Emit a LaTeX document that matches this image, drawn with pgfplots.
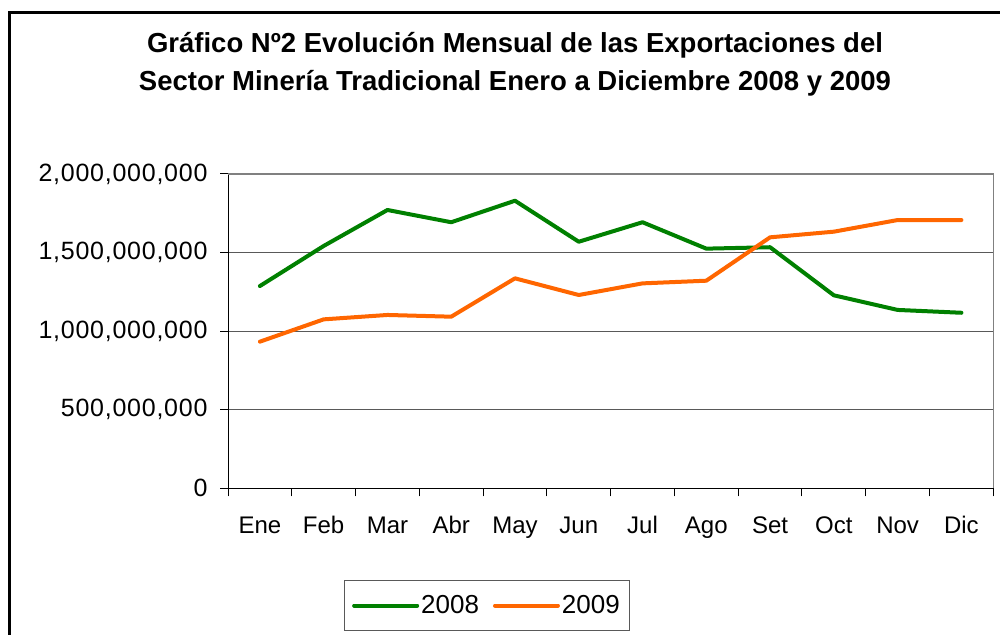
\documentclass[border=0pt]{standalone}
\usepackage{pgfplots}
\pgfplotsset{compat=1.18}
\usepackage{fontspec}
\setmainfont{Liberation Sans}
\definecolor{cgreen}{HTML}{008000}
\definecolor{corange}{HTML}{FF6600}
\begin{document}
\begin{tikzpicture}[x=1pt,y=1pt]
\useasboundingbox (0,0) rectangle (1000,634);
\draw[line width=3pt] (9.5,-10) -- (9.5,621) -- (1010,621);
\node[font=\bfseries\fontsize{27.5}{27.5}\selectfont] at (515,589) {Gráfico Nº2 Evolución Mensual de las Exportaciones del};
\node[font=\bfseries\fontsize{27.5}{27.5}\selectfont] at (515,551) {Sector Minería Tradicional Enero a Diciembre 2008 y 2009};
\begin{axis}[
  at={(228pt,145.7pt)}, anchor=south west,
  scale only axis, width=765.3pt, height=314.3pt,
  xmin=0.5, xmax=12.5, ymin=0, ymax=2000000000,
  xtick={0.5,1.5,...,12.5},
  x tick label as interval,
  xticklabels={Ene,Feb,Mar,Abr,May,Jun,Jul,Ago,Set,Oct,Nov,Dic},
  ytick={0,500000000,1000000000,1500000000,2000000000},
  yticklabels={0,{500,000,000},{1,000,000,000},{1,500,000,000},{2,000,000,000}},
  scaled y ticks=false,
  axis x line*=bottom, axis y line*=left,
  axis line style={-, black, line width=1pt},
  tick align=outside, major tick length=8pt,
  tick style={black, line width=1pt},
  ymajorgrids, grid style={gray!70!black, line width=1pt},
  yticklabel style={font=\fontsize{25}{25}\selectfont\addfontfeature{LetterSpace=3}, xshift=-9pt},
  xticklabel style={font=\fontsize{24}{24}\selectfont, anchor=base, yshift=-37pt},
  legend columns=2,
  legend style={at={(0.3384,-0.3729)}, anchor=center, draw=gray!70!black, line width=1pt,
    font=\fontsize{26}{26}\selectfont, inner xsep=8pt, inner ysep=13pt,
    /tikz/every even column/.append style={column sep=12pt}},
  legend image code/.code={\draw[#1, line cap=round] (0pt,0pt) -- (63pt,0pt);},
  clip=false,
]
\addplot[cgreen, line width=4pt, line join=round, line cap=round] coordinates {
(1,1287000000) (2,1542000000) (3,1771000000) (4,1693000000) (5,1830000000) (6,1569000000)
(7,1693000000) (8,1525000000) (9,1534000000) (10,1228000000) (11,1135000000) (12,1117000000)};
\addlegendentry{2008}
\addplot[corange, line width=4pt, line join=round, line cap=round] coordinates {
(1,933000000) (2,1075000000) (3,1103000000) (4,1092000000) (5,1336000000) (6,1230000000)
(7,1304000000) (8,1321000000) (9,1597000000) (10,1633000000) (11,1707000000) (12,1707000000)};
\addlegendentry{2009}
\draw[gray, line width=1.5pt] (rel axis cs:0,1) -- (rel axis cs:1,1) -- (rel axis cs:1,0);
\end{axis}
\end{tikzpicture}
\end{document}
